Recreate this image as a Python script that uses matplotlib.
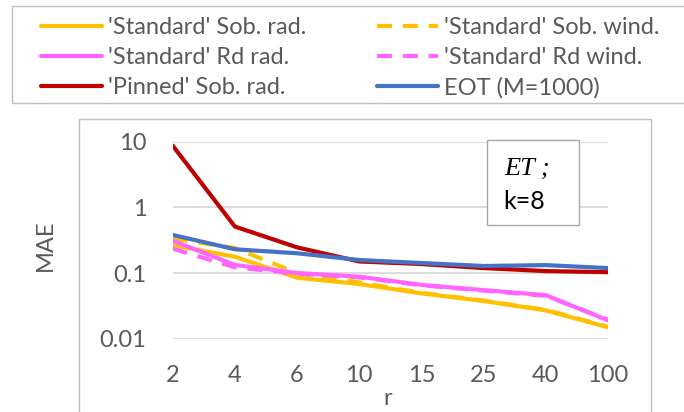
import matplotlib
matplotlib.use("Agg")
import matplotlib.pyplot as plt
from matplotlib.patches import Rectangle
from matplotlib.ticker import NullLocator, FixedLocator, FixedFormatter

plt.rcParams['font.family'] = ['Lato', 'DejaVu Sans']

# ---- data ----
r_labels = ['2', '4', '6', '10', '15', '25', '40', '100']
std_sob_rad = [0.265, 0.177, 0.085, 0.068, 0.049, 0.0375, 0.027, 0.0149]
std_sob_wind = [0.335, 0.24, 0.100, 0.072, 0.050, 0.038, 0.0275, 0.0152]
std_rd_rad = [0.31, 0.133, 0.100, 0.088, 0.066, 0.055, 0.046, 0.019]
std_rd_wind = [0.235, 0.122, 0.098, 0.086, 0.065, 0.054, 0.045, 0.0195]
pinned_sob_rad = [8.7, 0.51, 0.246, 0.150, 0.137, 0.119, 0.107, 0.103]
eot = [0.38, 0.23, 0.20, 0.158, 0.142, 0.128, 0.132, 0.119]
y_ticks = [0.01, 0.1, 1, 10]
y_tick_labels = ['0.01', '0.1', '1', '10']

W, H = 684, 412
fig = plt.figure(figsize=(W / 100, H / 100), dpi=100)

def fx(px):
    return px / W

def fy(py):
    return 1 - py / H

ax_l, ax_r, ax_t, ax_b = 172.7, 608.0, 141.7, 338.7
ax = fig.add_axes([fx(ax_l), fy(ax_b), fx(ax_r - ax_l), (ax_b - ax_t) / H])

x = list(range(len(r_labels)))
lw = 3.0
dash = (3.6, 2.6)
l1, = ax.plot(x, std_sob_rad, color='#FFC000', lw=lw, solid_capstyle='round', label="'Standard' Sob. rad.")
l2, = ax.plot(x, std_sob_wind, color='#FFC000', lw=lw, dashes=dash, label="'Standard' Sob. wind.")
l3, = ax.plot(x, std_rd_rad, color='#FF66FF', lw=lw, solid_capstyle='round', label="'Standard' Rd rad.")
l4, = ax.plot(x, std_rd_wind, color='#FF66FF', lw=lw, dashes=dash, label="'Standard' Rd wind.")
l5, = ax.plot(x, pinned_sob_rad, color='#C00000', lw=lw, solid_capstyle='round', label="'Pinned' Sob. rad.")
l6, = ax.plot(x, eot, color='#4472C4', lw=lw, solid_capstyle='round', label="EOT (M=1000)")

ax.set_yscale('log')
ax.set_ylim(0.01, 10)
ax.set_xlim(0, len(r_labels) - 1)
ax.yaxis.set_major_locator(FixedLocator(y_ticks))
ax.yaxis.set_major_formatter(FixedFormatter(y_tick_labels))
ax.yaxis.set_minor_locator(NullLocator())
ax.set_xticks(x)
ax.set_xticklabels(r_labels)
ax.tick_params(length=0, labelsize=17, labelcolor='#595959', pad=19)
ax.grid(axis='y', color='#d9d9d9', lw=1.3)
ax.set_axisbelow(True)
for s in ax.spines.values():
    s.set_visible(False)

ax.set_xlabel('r', fontsize=17, color='#595959')
ax.xaxis.set_label_coords((388 - ax_l) / (ax_r - ax_l), (ax_b - 405) / (ax_b - ax_t))
ax.xaxis.label.set_verticalalignment('baseline')
ax.set_ylabel('MAE', fontsize=17, color='#595959')
ax.yaxis.set_label_coords((45 - ax_l) / (ax_r - ax_l), (ax_b - 245) / (ax_b - ax_t))
ax.yaxis.label.set_verticalalignment('center')

# chart area frame
fig.patches.append(Rectangle((fx(79), -0.1), fx(651 - 79), fy(119) + 0.1,
                             transform=fig.transFigure, fill=False,
                             ec='#bfbfbf', lw=1.0, zorder=0.5))
# legend frame
fig.patches.append(Rectangle((fx(11.7), fy(103)), fx(720 - 11.7), (103 - 6) / H,
                             transform=fig.transFigure, fill=False,
                             ec='#bfbfbf', lw=1.0))
# annotation box
fig.patches.append(Rectangle((fx(486.7), fy(225)), fx(579.3 - 486.7), (225 - 140) / H,
                             transform=fig.transFigure, fc='white',
                             ec='#a6a6a6', lw=1.0, zorder=2))
fig.text(fx(504), fy(175), 'ET ;', family='Liberation Serif', fontstyle='italic',
         fontsize=19, va='baseline', ha='left', color='black', zorder=3)
fig.text(fx(503), fy(209), 'k=8', fontsize=18, va='baseline', ha='left',
         color='black', zorder=3)

fs = 17
fs_px = fs / 0.72
leg = fig.legend(handles=[l1, l3, l5, l2, l4, l6], ncol=2, loc='upper left',
                 bbox_to_anchor=(fx(41), fy(17)), bbox_transform=fig.transFigure,
                 frameon=False, fontsize=fs, borderpad=0, borderaxespad=0,
                 handlelength=61 / fs_px, handletextpad=6 / fs_px,
                 columnspacing=3.0, labelspacing=0.38, labelcolor='#595959')

fig.savefig('out.png', dpi=100)
